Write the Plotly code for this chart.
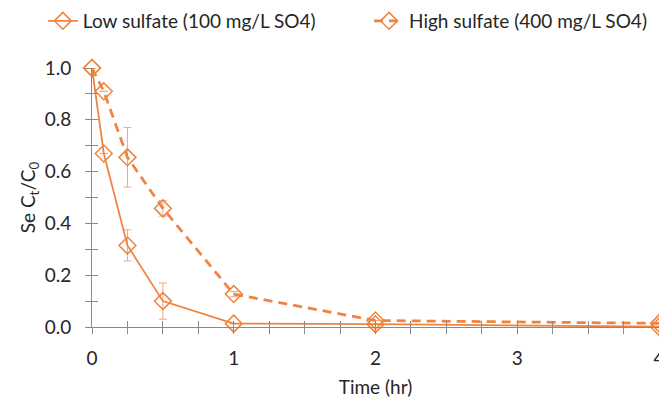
import plotly.graph_objects as go

# Data
time_low = [0, 0.0833, 0.25, 0.5, 1, 2, 4]
low_vals = [1.0, 0.67, 0.315, 0.10, 0.013, 0.011, 0.001]
low_err = [0, 0, 0.06, 0.07, 0, 0, 0]

time_high = [0, 0.0833, 0.25, 0.5, 1, 2, 4]
high_vals = [1.0, 0.91, 0.655, 0.458, 0.127, 0.025, 0.014]
high_err = [0, 0, 0.115, 0.03, 0.01, 0, 0]

x_ticks = [0, 1, 2, 3, 4]
y_ticks = [0.0, 0.2, 0.4, 0.6, 0.8, 1.0]

ORANGE = "#EE8440"
ERR = "#F4A777"
AXIS = "#8A8A8A"
FONT = "Lato"
FS = 19

fig = go.Figure()
fig.add_trace(go.Scatter(
    x=time_low, y=low_vals, name="Low sulfate (100 mg/L SO4)",
    mode="lines+markers", legend="legend",
    line=dict(color=ORANGE, width=1.75),
    marker=dict(symbol="diamond-open", size=13, color=ORANGE, line=dict(width=1.5)),
    error_y=dict(type="data", array=low_err, visible=True, color=ERR, thickness=1, width=4),
    cliponaxis=False,
))
fig.add_trace(go.Scatter(
    x=time_high, y=high_vals, name="High sulfate (400 mg/L SO4)",
    mode="lines+markers", legend="legend2",
    line=dict(color=ORANGE, width=2.75, dash="9px,6px"),
    marker=dict(symbol="diamond-open", size=13, color=ORANGE, line=dict(width=1.5)),
    error_y=dict(type="data", array=high_err, visible=True, color=ERR, thickness=1, width=4),
    cliponaxis=False,
))
# helper trace for overlay axes (inside ticks so ticks cross the axis line)
fig.add_trace(go.Scatter(x=time_low, y=low_vals, mode="none", xaxis="x2", yaxis="y2",
                         showlegend=False, hoverinfo="skip"))

tickfont = dict(family=FONT, size=FS, color="#262626")
common_x = dict(range=[0, 4], tickvals=x_ticks, showgrid=False, zeroline=False, automargin=False,
                showline=True, linecolor=AXIS, linewidth=1, tickcolor=AXIS, ticklen=6,
                minor=dict(dtick=0.25, ticklen=6, tickcolor=AXIS, showgrid=False))
common_y = dict(range=[0, 1], tickvals=y_ticks, showgrid=False, zeroline=False, automargin=False,
                showline=True, linecolor=AXIS, linewidth=1, tickcolor=AXIS, ticklen=6,
                minor=dict(dtick=0.1, ticklen=6, tickcolor=AXIS, showgrid=False))

legend_common = dict(orientation="h", xref="container", yref="container", y=0.995,
                     xanchor="left", yanchor="top", font=dict(family=FONT, size=FS, color="#262626"),
                     itemwidth=30, bgcolor="rgba(0,0,0,0)")

fig.update_layout(
    width=659, height=399, autosize=False,
    margin=dict(l=92, r=0, t=68, b=72, autoexpand=False),
    paper_bgcolor="white", plot_bgcolor="white",
    font=dict(family=FONT, size=FS, color="#262626"),
    xaxis=dict(**common_x, ticks="outside", ticklabeloverflow="allow",
               tickfont=tickfont, ticklabelstandoff=8,
               title=dict(text="Time (hr)", font=dict(family=FONT, size=FS), standoff=12)),
    yaxis=dict(**common_y, ticks="outside", tickformat=".1f",
               tickfont=tickfont, ticklabelstandoff=10,
               title=dict(text="Se C<sub>t</sub>/C<sub>0</sub>", font=dict(family=FONT, size=FS), standoff=4)),
    xaxis2=dict(**common_x, overlaying="x", ticks="inside", showticklabels=False, anchor="y2", side="bottom"),
    yaxis2=dict(**common_y, overlaying="y", ticks="inside", showticklabels=False, anchor="x2", side="left"),
    legend=dict(**legend_common, x=0.065),
    legend2=dict(**legend_common, x=0.56),
    showlegend=True,
)
fig.layout.xaxis.minor.ticks = "outside"
fig.layout.yaxis.minor.ticks = "outside"
fig.layout.xaxis2.minor.ticks = "inside"
fig.layout.yaxis2.minor.ticks = "inside"

fig.write_html("out.html", config={"displayModeBar": False},
               post_script="document.body.style.margin='0';document.body.style.overflow='hidden';")
